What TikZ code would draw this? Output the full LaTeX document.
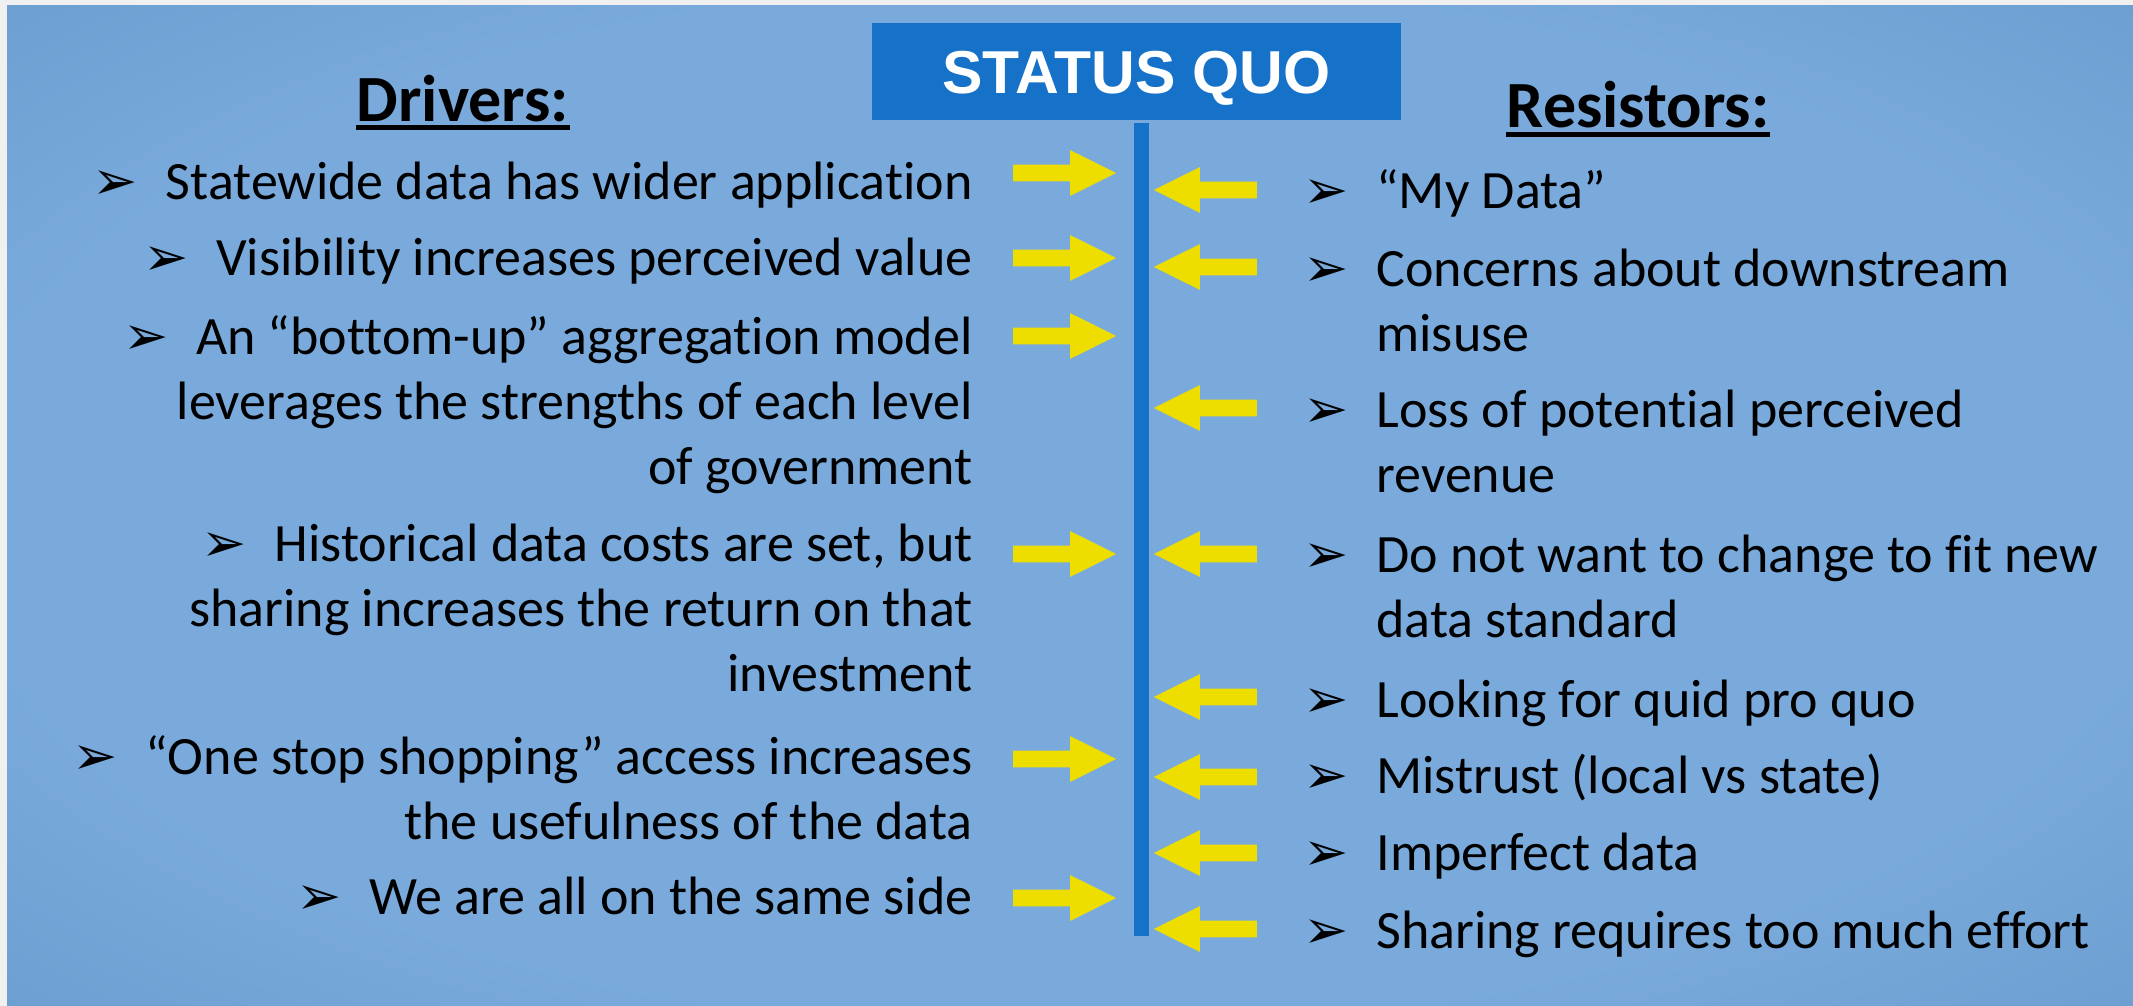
\documentclass[tikz,border=0pt]{standalone}
\usepackage{fontspec}
\setmainfont{Carlito}[Ligatures=NoCommon]
\newfontfamily\quofont{Liberation Sans}
\newfontfamily\symfont{DejaVu Sans}
\usetikzlibrary{shapes.arrows,positioning}
\definecolor{sqblue}{RGB}{22,113,200}
\definecolor{pushyellow}{RGB}{238,222,0}
\definecolor{bgin}{RGB}{121,170,219}
\definecolor{bgout}{RGB}{92,142,196}
\definecolor{bgcorner}{RGB}{76,126,182}
\definecolor{bgedge}{RGB}{240,240,240}
\pgfdeclareradialshading{slideback}{\pgfpoint{0bp}{0bp}}{color(0bp)=(bgin); color(26bp)=(bgin); color(50bp)=(bgout); color(72bp)=(bgcorner)}
\newcommand{\bul}{\makebox[36.5pt][l]{\symfont\fontsize{27}{27}\selectfont ➢}}
\tikzset{
  txt/.style={inner sep=0pt, font=\fontsize{27}{32.5}\selectfont},
  heading/.style={inner sep=0pt, anchor=base, font=\fontsize{33}{40}\selectfont\bfseries},
  driver/.style={txt, anchor=base east},
  resistor/.style={txt, anchor=base west},
  uline/.style={line width=2.5pt},
  pushright/.style={single arrow, fill=pushyellow, inner sep=4pt, minimum height=51.5pt,
    single arrow head extend=7.25pt, single arrow tip angle=53, anchor=tip},
  pushleft/.style={pushright, shape border rotate=180}
}

\begin{document}
\begin{tikzpicture}[x=0.5pt,y=-0.5pt]
            \useasboundingbox (0,0) rectangle (2133,1006);
            \fill[bgedge] (0,0) rectangle (2133,1006);
            \shade[shading=slideback] (7,6) rectangle (2133,1006);
            % status quo box and centre line
            \node[fill=sqblue, minimum width=264.5pt, minimum height=48.5pt, text=white,
              text height=21.7pt, text depth=0pt,
              font=\quofont\fontsize{30.3}{31}\selectfont\bfseries] (sq) at (1136.5,71.5) {STATUS QUO};
            \coordinate (top) at (1141.5,123);
            \coordinate (bottom) at (1141.5,936);
            \draw[sqblue, line width=7.5pt] (top)--(bottom);
            % headings
            \node[heading] (drv) at (463,122) {Drivers:};
            \node[heading] (res) at (1638,128) {Resistors:};
            \draw[uline] ([yshift=-3pt]drv.base west)--([yshift=-3pt]drv.base east);
            \draw[uline] ([yshift=-3.5pt]res.base west)--([yshift=-3.5pt]res.base east);
            % drivers
            \node[driver] (d1) at (973,199) {\bul Statewide data has wider application};
            \node[driver] (d2) at (973,276) {\bul Visibility increases perceived value};
            \node[driver] (d3) at (973,354) {\bul An “bottom-up” aggregation model};
            \node[driver] (d3b) at ([yshift=-32.5pt]d3.base east) {leverages the strengths of each level};
            \node[driver] (d3c) at ([yshift=-32.5pt]d3b.base east) {of government};
            \node[driver] (d4) at (973,561) {\bul Historical data costs are set, but};
            \node[driver] (d4b) at ([yshift=-32.5pt]d4.base east) {sharing increases the return on that};
            \node[driver] (d4c) at ([yshift=-32.5pt]d4b.base east) {investment};
            \node[driver] (d5) at (973,774) {\bul “One stop shopping” access increases};
            \node[driver] (d5b) at ([yshift=-32.5pt]d5.base east) {the usefulness of the data};
            \node[driver] (d6) at (973,914) {\bul We are all on the same side};
            % resistors
            \node[resistor] (r1) at (1303,208) {\bul “My Data”};
            \node[resistor] (r2) at (1303,286) {\bul Concerns about downstream};
            \node[resistor] (r2b) at ([xshift=36.5pt,yshift=-32.5pt]r2.base west) {misuse};
            \node[resistor] (r3) at (1303,427) {\bul Loss of potential perceived};
            \node[resistor] (r3b) at ([xshift=36.5pt,yshift=-32.5pt]r3.base west) {revenue};
            \node[resistor] (r4) at (1303,572) {\bul Do not want to change to fit new};
            \node[resistor] (r4b) at ([xshift=36.5pt,yshift=-32.5pt]r4.base west) {data standard};
            \node[resistor] (r5) at (1303,717) {\bul Looking for quid pro quo};
            \node[resistor] (r6) at (1303,793) {\bul Mistrust (local vs state)};
            \node[resistor] (r7) at (1303,870) {\bul Imperfect data};
            \node[resistor] (r8) at (1303,948) {\bul Sharing requires too much effort};
            % arrows
            \node[pushright] (dpush1) at (1117,173) {};
            \node[pushright] (dpush2) at (1117,258) {};
            \node[pushright] (dpush3) at (1117,336) {};
            \node[pushright] (dpush4) at (1117,554) {};
            \node[pushright] (dpush5) at (1117,759) {};
            \node[pushright] (dpush6) at (1117,898) {};
            \node[pushleft] (rpush1) at (1153,190) {};
            \node[pushleft] (rpush2) at (1153,267) {};
            \node[pushleft] (rpush3) at (1153,408) {};
            \node[pushleft] (rpush4) at (1153,554) {};
            \node[pushleft] (rpush5) at (1153,697) {};
            \node[pushleft] (rpush6) at (1153,777) {};
            \node[pushleft] (rpush7) at (1153,853) {};
            \node[pushleft] (rpush8) at (1153,929) {};
        \end{tikzpicture}
\end{document}
